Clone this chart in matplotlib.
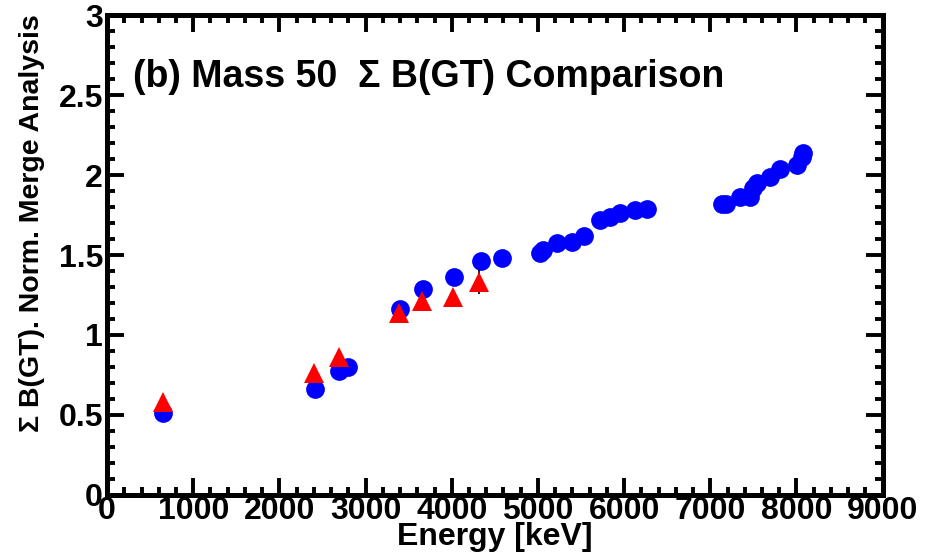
import matplotlib
matplotlib.use("Agg")
import matplotlib.pyplot as plt
from matplotlib.ticker import MultipleLocator

plt.rcParams['font.family'] = ['Liberation Sans', 'DejaVu Sans']

# Blue circles: merge analysis
merge_energy = [650, 2413, 2690, 2800, 3400, 3665, 4025, 4335, 4585,
                5023, 5060, 5220, 5395, 5535, 5720, 5835, 5950, 6125, 6265,
                7135, 7180, 7345, 7460, 7500, 7540, 7690, 7810, 8005, 8065, 8080]
merge_sum = [0.51, 0.66, 0.775, 0.80, 1.16, 1.29, 1.36, 1.46, 1.48,
             1.51, 1.53, 1.575, 1.58, 1.62, 1.72, 1.74, 1.76, 1.78, 1.79,
             1.82, 1.82, 1.86, 1.86, 1.92, 1.95, 1.99, 2.04, 2.06, 2.11, 2.14]

# Red triangles: comparison
comp_energy = [650, 2400, 2690, 3385, 3655, 4015, 4320]
comp_sum = [0.58, 0.76, 0.86, 1.14, 1.21, 1.24, 1.33]
comp_err = [0.0, 0.0, 0.0, 0.0, 0.0, 0.0, 0.075]

title_text = "(b) Mass 50  \u03a3 B(GT) Comparison"
xlabel_text = "Energy [keV]"
ylabel_text = "\u03a3 B(GT). Norm. Merge Analysis"

fig = plt.figure(figsize=(9.39, 5.58), dpi=100)
ax = fig.add_axes([0.114, 0.113, 0.826, 0.860])

ax.plot(merge_energy, merge_sum, 'o', color=(0, 0, 1), ms=13.5, mew=0, zorder=3)
ax.errorbar(comp_energy, comp_sum, yerr=comp_err, fmt='^', color=(1, 0, 0),
            ecolor='black', elinewidth=1.2, capsize=0, ms=14, mew=0, zorder=4)

ax.set_xlim(0, 9000)
ax.set_ylim(0, 3)
ax.xaxis.set_major_locator(MultipleLocator(1000))
ax.xaxis.set_minor_locator(MultipleLocator(200))
ax.yaxis.set_major_locator(MultipleLocator(0.5))
ax.yaxis.set_minor_locator(MultipleLocator(0.1))
ax.set_yticks([0, 0.5, 1, 1.5, 2, 2.5, 3])
ax.set_yticklabels(['0', '0.5', '1', '1.5', '2', '2.5', '3'])

for s in ax.spines.values():
    s.set_linewidth(3.6)
ax.tick_params(which='both', direction='in', top=True, right=True,
               width=2.8, labelsize=23)
ax.tick_params(which='major', length=12)
ax.tick_params(which='minor', length=6)
ax.tick_params(axis='x', which='major', pad=1)
ax.tick_params(axis='y', which='major', pad=3)
for lab in ax.get_xticklabels() + ax.get_yticklabels():
    lab.set_fontweight('bold')

ax.text(0.034, 0.85, title_text, transform=ax.transAxes, fontsize=27,
        fontweight='bold', ha='left', va='baseline')

ax.set_xlabel(xlabel_text, fontsize=23, fontweight='bold', labelpad=-3)
fig.text(0.034, 0.975, ylabel_text, rotation=90, fontsize=20.5, fontweight='bold',
         ha='center', va='top')

fig.savefig('out.png', dpi=100)
